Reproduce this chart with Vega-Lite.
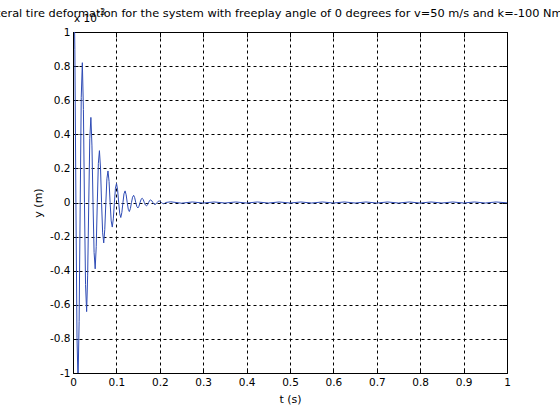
{
  "$schema": "https://vega.github.io/schema/vega-lite/v6.json",
  "width": 434,
  "height": 341,
  "autosize": {"type": "none"},
  "padding": {"left": 73, "top": 32, "right": 53, "bottom": 47},
  "background": "white",
  "title": {
    "text": "Lateral tire deformation for the system with freeplay angle of 0 degrees for v=50 m/s and k=-100 Nm/rad",
    "font": "DejaVu Sans",
    "fontSize": 11.35,
    "fontWeight": "normal",
    "color": "black",
    "anchor": "middle",
    "baseline": "alphabetic",
    "offset": -19,
    "dx": -6,
    "frame": "group"
  },
  "config": {
    "view": {"stroke": "black", "strokeWidth": 1},
    "axis": {
      "domain": false,
      "grid": true,
      "gridColor": "black",
      "gridDash": [3, 3],
      "gridOpacity": 1,
      "gridWidth": 1,
      "ticks": true,
      "tickColor": "black",
      "tickSize": -5,
      "labelFont": "DejaVu Sans",
      "labelFontSize": 10.5,
      "labelColor": "black",
      "labelOverlap": false,
      "labelFlush": false,
      "titleFont": "DejaVu Sans",
      "titleFontSize": 11,
      "titleFontWeight": "normal",
      "titleColor": "black"
    }
  },
  "resolve": {"axis": {"x": "independent", "y": "independent"}},
  "data": {
    "values": [
      {"t": 0, "y": 1.2},
      {"t": 0.0018, "y": 1.348},
      {"t": 0.0043, "y": 0.896},
      {"t": 0.0067, "y": 0},
      {"t": 0.0092, "y": -0.79},
      {"t": 0.0116, "y": -1.051},
      {"t": 0.0141, "y": -0.699},
      {"t": 0.0166, "y": 0},
      {"t": 0.019, "y": 0.617},
      {"t": 0.0215, "y": 0.82},
      {"t": 0.024, "y": 0.545},
      {"t": 0.0264, "y": 0},
      {"t": 0.0289, "y": -0.481},
      {"t": 0.0314, "y": -0.64},
      {"t": 0.0338, "y": -0.426},
      {"t": 0.0363, "y": 0},
      {"t": 0.0387, "y": 0.375},
      {"t": 0.0412, "y": 0.499},
      {"t": 0.0437, "y": 0.332},
      {"t": 0.0461, "y": 0},
      {"t": 0.0486, "y": -0.293},
      {"t": 0.0511, "y": -0.389},
      {"t": 0.0535, "y": -0.259},
      {"t": 0.056, "y": 0},
      {"t": 0.0584, "y": 0.229},
      {"t": 0.0609, "y": 0.304},
      {"t": 0.0634, "y": 0.202},
      {"t": 0.0658, "y": 0},
      {"t": 0.0683, "y": -0.178},
      {"t": 0.0708, "y": -0.237},
      {"t": 0.0732, "y": -0.158},
      {"t": 0.0757, "y": 0},
      {"t": 0.0781, "y": 0.139},
      {"t": 0.0806, "y": 0.185},
      {"t": 0.0831, "y": 0.123},
      {"t": 0.0855, "y": 0},
      {"t": 0.088, "y": -0.108},
      {"t": 0.0905, "y": -0.144},
      {"t": 0.0929, "y": -0.096},
      {"t": 0.0954, "y": 0},
      {"t": 0.0978, "y": 0.084},
      {"t": 0.1003, "y": 0.112},
      {"t": 0.1028, "y": 0.074},
      {"t": 0.1052, "y": 0},
      {"t": 0.1077, "y": -0.066},
      {"t": 0.1101, "y": -0.088},
      {"t": 0.1126, "y": -0.058},
      {"t": 0.1151, "y": 0},
      {"t": 0.1175, "y": 0.051},
      {"t": 0.12, "y": 0.068},
      {"t": 0.1225, "y": 0.045},
      {"t": 0.1249, "y": 0},
      {"t": 0.1274, "y": -0.04},
      {"t": 0.1298, "y": -0.053},
      {"t": 0.1323, "y": -0.035},
      {"t": 0.1348, "y": 0},
      {"t": 0.1372, "y": 0.031},
      {"t": 0.1397, "y": 0.042},
      {"t": 0.1422, "y": 0.028},
      {"t": 0.1446, "y": 0},
      {"t": 0.1471, "y": -0.024},
      {"t": 0.1496, "y": -0.032},
      {"t": 0.152, "y": -0.022},
      {"t": 0.1545, "y": 0},
      {"t": 0.1569, "y": 0.019},
      {"t": 0.1594, "y": 0.025},
      {"t": 0.1619, "y": 0.017},
      {"t": 0.1643, "y": 0},
      {"t": 0.1668, "y": -0.015},
      {"t": 0.1693, "y": -0.02},
      {"t": 0.1717, "y": -0.013},
      {"t": 0.1742, "y": 0},
      {"t": 0.1766, "y": 0.012},
      {"t": 0.1791, "y": 0.015},
      {"t": 0.1816, "y": 0.01},
      {"t": 0.184, "y": 0},
      {"t": 0.1865, "y": -0.009},
      {"t": 0.189, "y": -0.012},
      {"t": 0.1914, "y": -0.008},
      {"t": 0.1939, "y": 0},
      {"t": 0.1963, "y": 0.007},
      {"t": 0.1988, "y": 0.009},
      {"t": 0.2013, "y": 0.006},
      {"t": 0.2037, "y": 0},
      {"t": 0.2062, "y": -0.005},
      {"t": 0.2086, "y": -0.007},
      {"t": 0.2111, "y": -0.005},
      {"t": 0.2135, "y": 0},
      {"t": 0.225, "y": 0.004},
      {"t": 0.25, "y": -0.004},
      {"t": 0.275, "y": 0.003},
      {"t": 0.3, "y": -0.003},
      {"t": 0.325, "y": 0.003},
      {"t": 0.35, "y": -0.003},
      {"t": 0.375, "y": 0.003},
      {"t": 0.4, "y": -0.003},
      {"t": 0.425, "y": 0.003},
      {"t": 0.45, "y": -0.003},
      {"t": 0.475, "y": 0.003},
      {"t": 0.5, "y": -0.003},
      {"t": 0.525, "y": 0.003},
      {"t": 0.55, "y": -0.003},
      {"t": 0.575, "y": 0.003},
      {"t": 0.6, "y": -0.003},
      {"t": 0.625, "y": 0.003},
      {"t": 0.65, "y": -0.003},
      {"t": 0.675, "y": 0.003},
      {"t": 0.7, "y": -0.003},
      {"t": 0.725, "y": 0.003},
      {"t": 0.75, "y": -0.003},
      {"t": 0.775, "y": 0.003},
      {"t": 0.8, "y": -0.003},
      {"t": 0.825, "y": 0.003},
      {"t": 0.85, "y": -0.003},
      {"t": 0.875, "y": 0.003},
      {"t": 0.9, "y": -0.003},
      {"t": 0.925, "y": 0.003},
      {"t": 0.95, "y": -0.003},
      {"t": 0.975, "y": 0.003},
      {"t": 1.0, "y": -0.002}
    ]
  },
  "layer": [
    {
      "mark": {"type": "line", "color": "#2e4bb5", "strokeWidth": 1, "clip": true},
      "encoding": {
        "x": {
          "field": "t",
          "type": "quantitative",
          "scale": {"domain": [0, 1], "nice": false, "zero": false},
          "axis": {
            "title": "t (s)",
            "orient": "bottom",
            "values": [0, 0.1, 0.2, 0.3, 0.4, 0.5, 0.6, 0.7, 0.8, 0.9, 1],
            "labelExpr": "'' + datum.value",
            "labelOverlap": false,
            "labelPadding": 9,
            "titlePadding": 6
          }
        },
        "y": {
          "field": "y",
          "type": "quantitative",
          "scale": {"domain": [-1, 1], "nice": false},
          "axis": {
            "title": "y (m)",
            "orient": "left",
            "values": [-1, -0.8, -0.6, -0.4, -0.2, 0, 0.2, 0.4, 0.6, 0.8, 1],
            "labelExpr": "'' + datum.value",
            "labelOverlap": false,
            "labelPadding": 8,
            "titlePadding": 6
          }
        }
      }
    },
    {
      "mark": {"type": "line", "opacity": 0, "clip": true},
      "encoding": {
        "x": {
          "field": "t",
          "type": "quantitative",
          "axis": {
            "orient": "top",
            "title": null,
            "labels": false,
            "grid": false,
            "values": [0, 0.1, 0.2, 0.3, 0.4, 0.5, 0.6, 0.7, 0.8, 0.9, 1]
          }
        },
        "y": {
          "field": "y",
          "type": "quantitative",
          "axis": {
            "orient": "right",
            "title": null,
            "labels": false,
            "grid": false,
            "values": [-1, -0.8, -0.6, -0.4, -0.2, 0, 0.2, 0.4, 0.6, 0.8, 1]
          }
        }
      }
    },
    {
      "data": {"values": [{"label": "x 10"}]},
      "mark": {"type": "text", "align": "left", "baseline": "alphabetic", "dx": 1, "dy": -10, "font": "DejaVu Sans", "fontSize": 10.5, "color": "black", "clip": false},
      "encoding": {
        "x": {"datum": 0, "type": "quantitative", "axis": null},
        "y": {"datum": 1, "type": "quantitative", "axis": null},
        "text": {"field": "label"}
      }
    },
    {
      "data": {"values": [{"label": "-3"}]},
      "mark": {"type": "text", "align": "left", "baseline": "alphabetic", "dx": 24, "dy": -17, "font": "DejaVu Sans", "fontSize": 8, "color": "black", "clip": false},
      "encoding": {
        "x": {"datum": 0, "type": "quantitative", "axis": null},
        "y": {"datum": 1, "type": "quantitative", "axis": null},
        "text": {"field": "label"}
      }
    }
  ]
}
